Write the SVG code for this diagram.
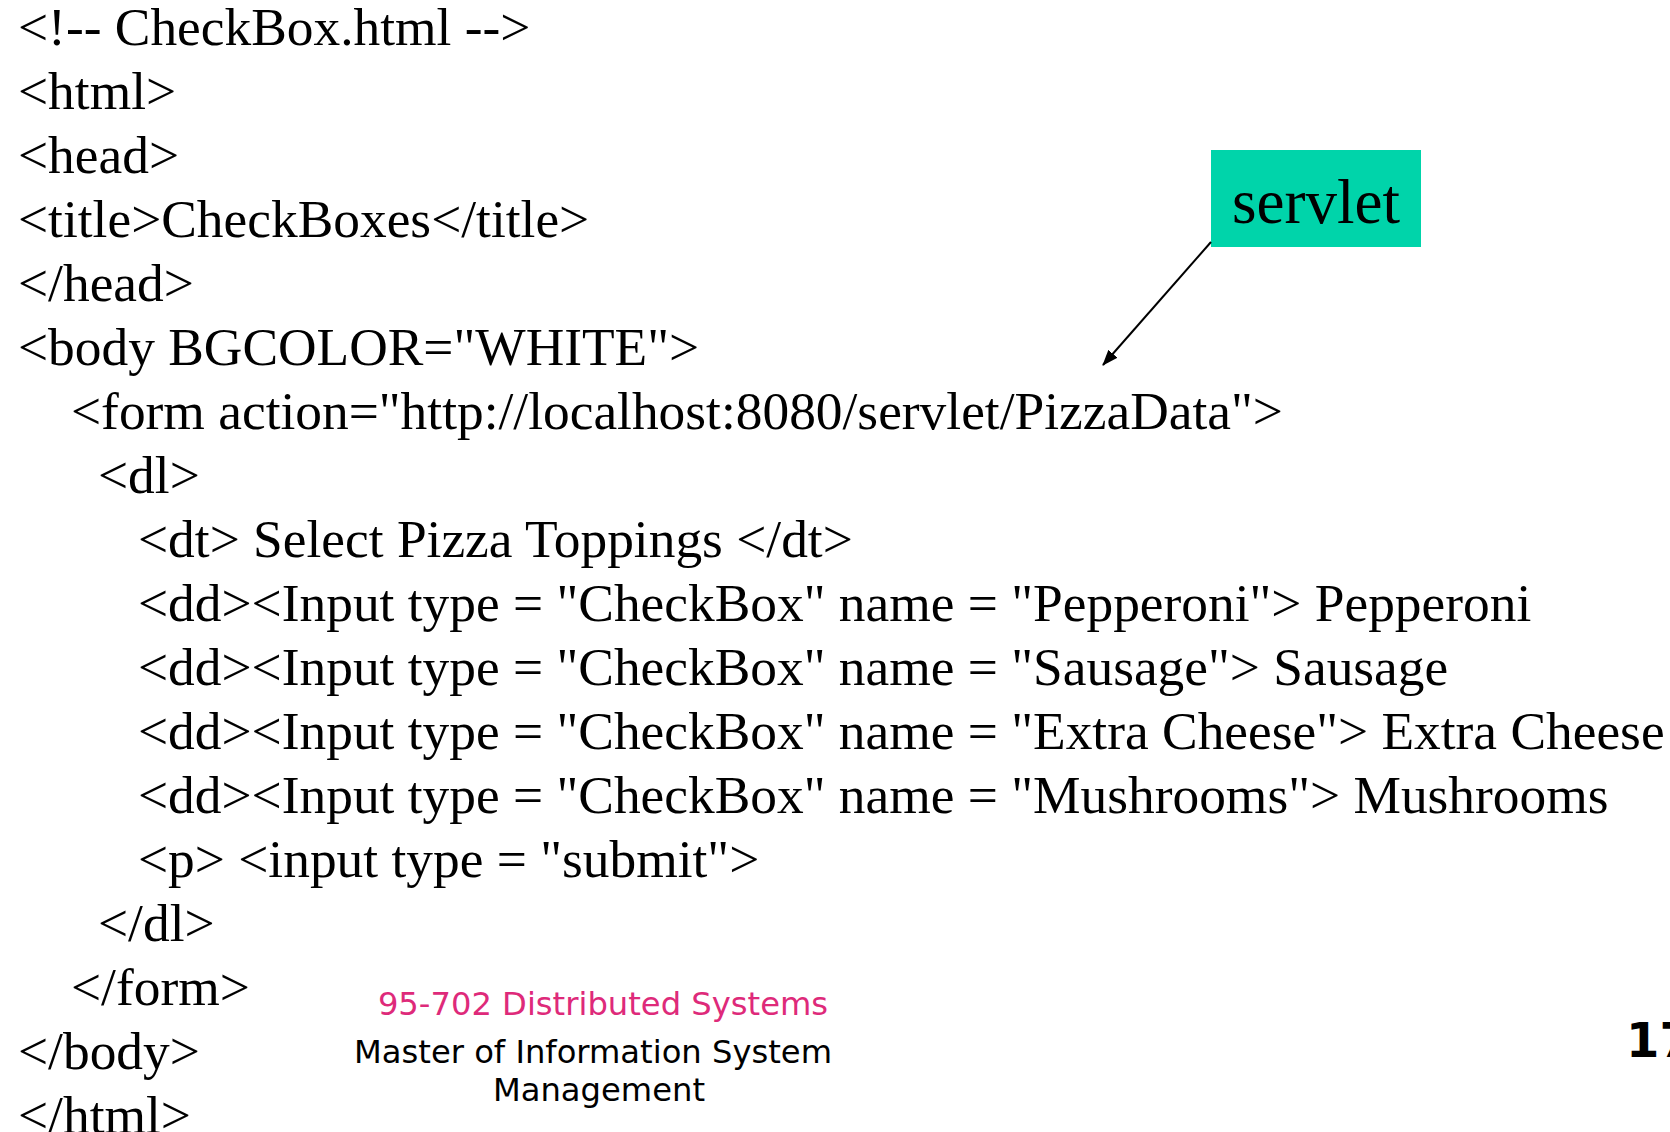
<svg xmlns="http://www.w3.org/2000/svg" width="1670" height="1132" viewBox="0 0 1670 1132">
<style>
.code{font-family:"Liberation Serif","Times New Roman",serif;font-size:53.4px;fill:#000}
.foot{font-family:"DejaVu Sans",Verdana,sans-serif;font-size:32.2px}
</style>
<defs>
<marker id="ah" markerWidth="16" markerHeight="12" refX="15" refY="6" orient="auto" markerUnits="userSpaceOnUse" viewBox="0 0 16 12">
<path d="M0,0 L16,6 L0,12 Z" fill="#000"/>
</marker>
</defs>
<rect width="1670" height="1132" fill="#fff"/>
<g id="code">
<text class="code" x="18" y="45">&lt;!-- CheckBox.html --&gt;</text>
<text class="code" x="18" y="109">&lt;html&gt;</text>
<text class="code" x="18" y="173">&lt;head&gt;</text>
<text class="code" x="18" y="237">&lt;title&gt;CheckBoxes&lt;/title&gt;</text>
<text class="code" x="18" y="301">&lt;/head&gt;</text>
<text class="code" x="18" y="365">&lt;body BGCOLOR="WHITE"&gt;</text>
<text class="code" x="71" y="429">&lt;form action="http://localhost:8080/servlet/PizzaData"&gt;</text>
<text class="code" x="98" y="493">&lt;dl&gt;</text>
<text class="code" x="138" y="557">&lt;dt&gt; Select Pizza Toppings &lt;/dt&gt;</text>
<text class="code" x="138" y="621">&lt;dd&gt;&lt;Input type = "CheckBox" name = "Pepperoni"&gt; Pepperoni</text>
<text class="code" x="138" y="685">&lt;dd&gt;&lt;Input type = "CheckBox" name = "Sausage"&gt; Sausage</text>
<text class="code" x="138" y="749">&lt;dd&gt;&lt;Input type = "CheckBox" name = "Extra Cheese"&gt; Extra Cheese</text>
<text class="code" x="138" y="813">&lt;dd&gt;&lt;Input type = "CheckBox" name = "Mushrooms"&gt; Mushrooms</text>
<text class="code" x="138" y="877">&lt;p&gt; &lt;input type = "submit"&gt;</text>
<text class="code" x="98" y="941">&lt;/dl&gt;</text>
<text class="code" x="71" y="1005">&lt;/form&gt;</text>
<text class="code" x="18" y="1069">&lt;/body&gt;</text>
<text class="code" x="18" y="1133">&lt;/html&gt;</text>
</g>
<g id="servlet">
<rect x="1211" y="150" width="210" height="97" fill="#00D4AA"/>
<text x="1316" y="223" text-anchor="middle" style="font-family:'Liberation Serif','Times New Roman',serif;font-size:63px;fill:#000">servlet</text>
</g>
<g id="connectors">
<line x1="1211" y1="242" x2="1103" y2="365" stroke="#000" stroke-width="2" marker-end="url(#ah)"/>
</g>
<g id="footer">
<text class="foot" x="603" y="1015" text-anchor="middle" fill="#DE2A7A">95-702 Distributed Systems</text>
<text class="foot" x="593" y="1063" text-anchor="middle" fill="#000">Master of Information System</text>
<text class="foot" x="599" y="1101" text-anchor="middle" fill="#000">Management</text>
<text x="1626" y="1057" style="font-family:'DejaVu Sans',Verdana,sans-serif;font-size:48px;font-weight:bold;fill:#000">17</text>
</g>
</svg>
